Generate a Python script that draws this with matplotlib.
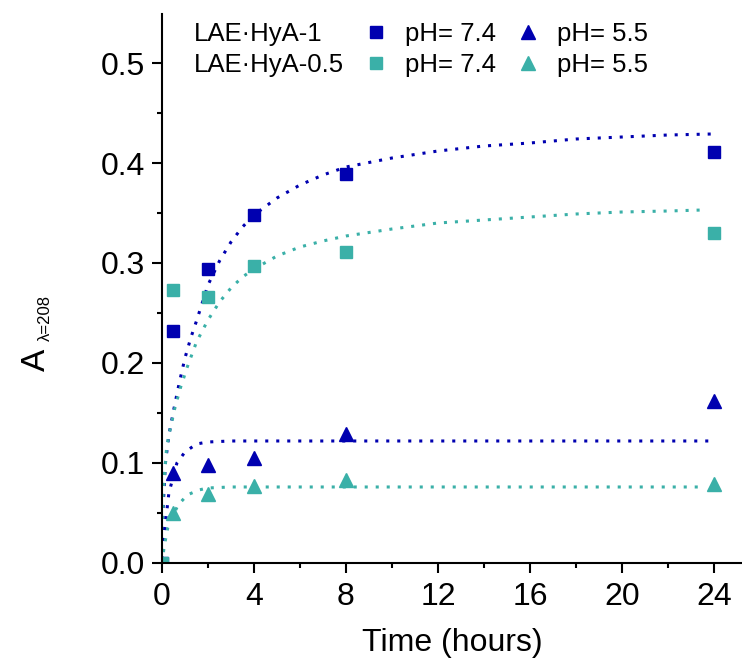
import matplotlib
matplotlib.use('Agg')
import matplotlib.pyplot as plt
from matplotlib.lines import Line2D

plt.rcParams['font.family'] = ['Liberation Sans', 'DejaVu Sans']

# measured points
time = [0, 0.5, 2, 4, 8, 24]
hya1_74 = [0, 0.232, 0.294, 0.348, 0.389, 0.411]
hya05_74 = [0, 0.273, 0.266, 0.297, 0.311, 0.330]
hya1_55 = [0, 0.090, 0.098, 0.105, 0.129, 0.162]
hya05_55 = [0, 0.050, 0.069, 0.077, 0.083, 0.079]

# fitted curves
fit1_74_t = [0, 0.05, 0.15, 0.3, 0.5, 0.75, 1.0, 1.25, 1.5, 2.0, 2.5, 3.0, 3.5, 4.0,
             5.0, 6.0, 7.0, 8.0, 10, 12, 14, 16, 18, 20, 22, 23.9]
fit1_74_y = [0, 0.055, 0.100, 0.128, 0.152, 0.180, 0.205, 0.225, 0.242, 0.278, 0.302,
             0.321, 0.336, 0.348, 0.365, 0.378, 0.388, 0.396, 0.405, 0.412, 0.417,
             0.420, 0.424, 0.426, 0.428, 0.429]
fit05_74_t = [0, 0.05, 0.2, 0.35, 0.55, 0.8, 1.1, 1.5, 2.0, 2.5, 3.0, 3.5, 4.0, 5.0,
              6.0, 7.0, 8.0, 10, 12, 14, 16, 18, 20, 22, 23.5]
fit05_74_y = [0, 0.070, 0.115, 0.133, 0.154, 0.175, 0.196, 0.221, 0.243, 0.261, 0.275,
              0.286, 0.294, 0.307, 0.316, 0.322, 0.327, 0.334, 0.340, 0.343, 0.346,
              0.349, 0.351, 0.352, 0.353]
fit1_55_t = [0, 0.1, 0.3, 0.65, 1.0, 1.5, 2.0, 3.0, 23.8]
fit1_55_y = [0, 0.030, 0.070, 0.100, 0.111, 0.119, 0.121, 0.122, 0.122]
fit05_55_t = [0, 0.1, 0.25, 0.45, 0.7, 1.1, 1.6, 2.0, 3.0, 23.3]
fit05_55_y = [0, 0.017, 0.035, 0.046, 0.058, 0.068, 0.073, 0.075, 0.076, 0.076]

blue = '#0000B0'
teal = '#3AB0A8'
dots = (0, (1, 2.6))

fig = plt.figure(figsize=(7.42, 6.61), dpi=100)
ax = fig.add_axes([0.2183, 0.1483, 0.7817, 0.8305])

ax.plot(fit1_74_t, fit1_74_y, color=blue, lw=2.2, ls=dots)
ax.plot(fit05_74_t, fit05_74_y, color=teal, lw=2.2, ls=dots)
ax.plot(fit1_55_t, fit1_55_y, color=blue, lw=2.2, ls=dots)
ax.plot(fit05_55_t, fit05_55_y, color=teal, lw=2.2, ls=dots)

ax.plot(time, hya1_55, '^', color=blue, ms=10.5, mec=blue)
ax.plot(time, hya05_55, '^', color=teal, ms=10.5, mec=teal)
ax.plot(time, hya1_74, 's', color=blue, ms=8.3, mec=blue)
ax.plot(time, hya05_74, 's', color=teal, ms=8.3, mec=teal)

ax.set_xlim(0, 25.22)
ax.set_ylim(0, 0.549)
ax.set_xticks([0, 4, 8, 12, 16, 20, 24])
ax.set_xticks([2, 6, 10, 14, 18, 22], minor=True)
ax.set_yticks([0.0, 0.1, 0.2, 0.3, 0.4, 0.5])
ax.set_yticks([0.05, 0.15, 0.25, 0.35, 0.45], minor=True)
ax.set_yticklabels(['0.0', '0.1', '0.2', '0.3', '0.4', '0.5'])

for s in ['top', 'right']:
    ax.spines[s].set_visible(False)
for s in ['left', 'bottom']:
    ax.spines[s].set_linewidth(1.5)
ax.tick_params(which='major', direction='out', length=7, width=1.5, labelsize=23, pad=5)
ax.tick_params(axis='x', which='major', pad=7)
ax.tick_params(which='minor', direction='out', length=3.5, width=1.5)

ax.set_xlabel('Time (hours)', fontsize=23, labelpad=11)

# y label: big A with a small subscript
fig.text(36 / 742, 1 - 360 / 661, 'A', fontsize=24, rotation=90, ha='center', va='center')
fig.text(45 / 742, 1 - 318 / 661, 'λ=208', fontsize=12, rotation=90, ha='center', va='center')

blank = Line2D([], [], linestyle='none')
handles = [blank, blank,
           Line2D([], [], ls='none', marker='s', color=blue, ms=8.3),
           Line2D([], [], ls='none', marker='s', color=teal, ms=8.3),
           Line2D([], [], ls='none', marker='^', color=blue, ms=10.5),
           Line2D([], [], ls='none', marker='^', color=teal, ms=10.5)]
labels = ['LAE·HyA-1', 'LAE·HyA-0.5', 'pH= 7.4', 'pH= 7.4', 'pH= 5.5', 'pH= 5.5']
ax.legend(handles, labels, ncol=3, loc='upper left', bbox_to_anchor=(-0.026, 1.0),
          frameon=False, fontsize=18.5, handlelength=0.8, handletextpad=0.73,
          columnspacing=0.85, labelspacing=0.28, borderaxespad=0.0, borderpad=0.3)

fig.savefig('out.png', dpi=100)
